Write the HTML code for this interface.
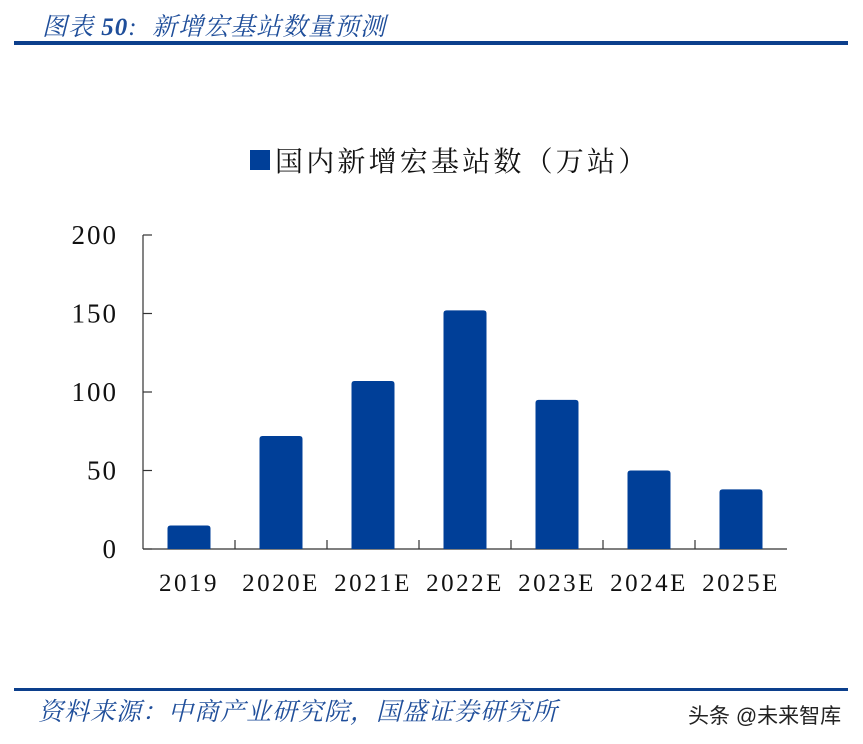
<!DOCTYPE html>
<html><head><meta charset="utf-8"><style>
body{margin:0;background:#fff;width:863px;height:744px;overflow:hidden;position:relative}
.t{position:absolute;font-family:"Liberation Sans","Noto Sans CJK SC",sans-serif;font-style:italic;color:#1f4e9a;white-space:nowrap}
</style></head><body>
<div class="t" style="left:42px;top:7px;font-size:25px;letter-spacing:1px;font-family:'Liberation Serif','Noto Serif CJK SC',serif">图表 <b>50</b>:&nbsp; 新增宏基站数量预测</div>
<div style="position:absolute;left:14px;top:41px;width:834px;height:4px;background:#0c3f8c"></div>
<div style="position:absolute;left:14px;top:688px;width:834px;height:3px;background:#0c3f8c"></div>
<div class="t" style="left:38px;top:692px;font-size:25px;letter-spacing:1px;font-family:'Liberation Serif','Noto Serif CJK SC',serif">资料来源：中商产业研究院，国盛证券研究所</div>
<div style="position:absolute;left:688px;top:700px;font-size:21px;font-family:'Liberation Sans','Noto Sans CJK SC',sans-serif;color:#222">头条 @未来智库</div>
<svg id="c" width="863" height="744" style="position:absolute;left:0;top:0"></svg>
<script>
const categories=["2019","2020E","2021E","2022E","2023E","2024E","2025E"];
const values=[15,72,107,152,95,50,38];
const yTicks=[0,50,100,150,200];
const legendLabel="国内新增宏基站数（万站）";
const NS="http://www.w3.org/2000/svg",svg=document.getElementById('c');
const x0=143,x1=787,yb=549,yt=235,ymax=200;
const y=v=>yb-(v/ymax)*(yb-yt);
const bw=(x1-x0)/categories.length;
function mk(t,a,txt){const e=document.createElementNS(NS,t);for(const k in a)e.setAttribute(k,a[k]);if(txt!=null)e.textContent=txt;svg.appendChild(e);return e;}
let e;
e=mk('line',{x1:x0,y1:yt,x2:x0,y2:yb,stroke:'#333','stroke-width':1.2});


e=mk('line',{x1:x0,y1:yb,x2:x1,y2:yb,stroke:'#333','stroke-width':1.2});


yTicks.forEach(v=>{
 e=mk('line',{x1:x0,y1:y(v),x2:x0+9,y2:y(v),stroke:'#333','stroke-width':1.2});
 
 
 e=mk('text',{x:118,y:y(v)+9,'text-anchor':'end','font-family':'Liberation Serif,serif','font-size':27,'letter-spacing':2,fill:'#111'},String(v));
 
 
});
categories.forEach((c,i)=>{
 const cx=x0+bw*(i+0.5);
 if(i>0){e=mk('line',{x1:x0+bw*i,y1:yb-9,x2:x0+bw*i,y2:yb,stroke:'#333','stroke-width':1.2});
 
 }
 e=mk('path',{d:`M${cx-21.5},${yb} V${y(values[i])+3} q0,-3 3,-3 h37 q3,0 3,3 V${yb} Z`,fill:'#003f98'});
 
 
 e=mk('text',{x:cx,y:591,'text-anchor':'middle','font-family':'Liberation Serif,serif','font-size':25,'letter-spacing':2.5,fill:'#111'},c);
 
 
});
e=mk('rect',{x:250,y:150,width:20,height:20,fill:'#003f98'});


e=mk('text',{x:275,y:171,'font-family':'Liberation Serif,Noto Serif CJK SC,serif','font-size':28,'letter-spacing':3.2,fill:'#111'},legendLabel);


</script>
</body></html>
